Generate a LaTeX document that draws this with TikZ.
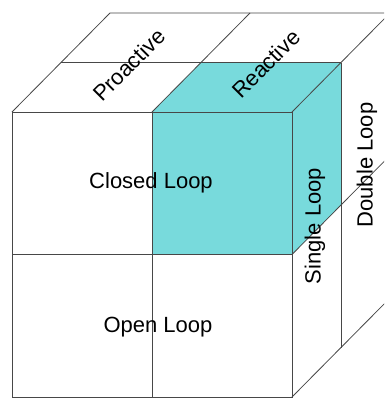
\documentclass[tikz,border=0pt]{standalone}
\usepackage{fontspec}
\setmainfont{Liberation Sans}
\usetikzlibrary{calc}
\definecolor{cubecyan}{RGB}{120,218,220}
\tikzset{
	edge/.style={draw=black!72, line width=0.8pt},
	lbl/.style={font=\fontsize{22}{26}\selectfont, inner sep=0pt},
}

\begin{document}
\begin{tikzpicture}[x=1pt, y=-1pt]
	\useasboundingbox (0,0) rectangle (384,399);
	\clip (0,0) rectangle (384,399);

	% Front face corners and depth vector
	\coordinate (FTL) at (12,112);
	\coordinate (FTR) at (292,112);
	\coordinate (FBR) at (292,397);
	\coordinate (FBL) at (12,397);
	\coordinate (D) at (98,-99);

	\coordinate (FTM) at ($(FTL)!0.5!(FTR)$);
	\coordinate (FBM) at ($(FBL)!0.5!(FBR)$);
	\coordinate (FLM) at ($(FTL)!0.5!(FBL)$);
	\coordinate (FRM) at ($(FTR)!0.5!(FBR)$);

	% Highlighted small cube (front, top, right)
	\fill[cubecyan] (FTM) -- (FTR) -- (FRM) -- ($(FTM)!0.5!(FBM)$) -- cycle;
	\fill[cubecyan] (FTM) -- (FTR) -- ($(FTR)+0.5*(D)$) -- ($(FTM)+0.5*(D)$) -- cycle;
	\fill[cubecyan] (FTR) -- ($(FTR)+0.5*(D)$) -- ($(FRM)+0.5*(D)$) -- (FRM) -- cycle;

	% Front face
	\draw[edge] (FTL) rectangle (FBR);
	\draw[edge] (FTM) -- (FBM);
	\draw[edge] (FLM) -- (FRM);

	% Top face
	\draw[edge] (FTL) -- ++(D) -- ($(FTR)+(D)$) -- (FTR);
	\draw[edge] (FTM) -- ++(D);
	\draw[edge] ($(FTL)+0.5*(D)$) -- ($(FTR)+0.5*(D)$);

	% Right face
	\draw[edge] ($(FTR)+(D)$) -- ($(FBR)+(D)$) -- (FBR);
	\draw[edge] ($(FTR)+0.5*(D)$) -- ($(FBR)+0.5*(D)$);
	\draw[edge] (FRM) -- ++(D);

	% Labels
	\node[lbl] (closed) at (151,183) {Closed Loop};
	\node[lbl] (open) at (158,327) {Open Loop};
	\node[lbl, rotate=45] (proactive) at (129,65) {Proactive};
	\node[lbl, rotate=45] (reactive) at (266,64) {Reactive};
	\node[lbl, rotate=90] (single) at (315,226) {Single Loop};
	\node[lbl, rotate=90] (double) at (367,165) {Double Loop};
\end{tikzpicture}
\end{document}
